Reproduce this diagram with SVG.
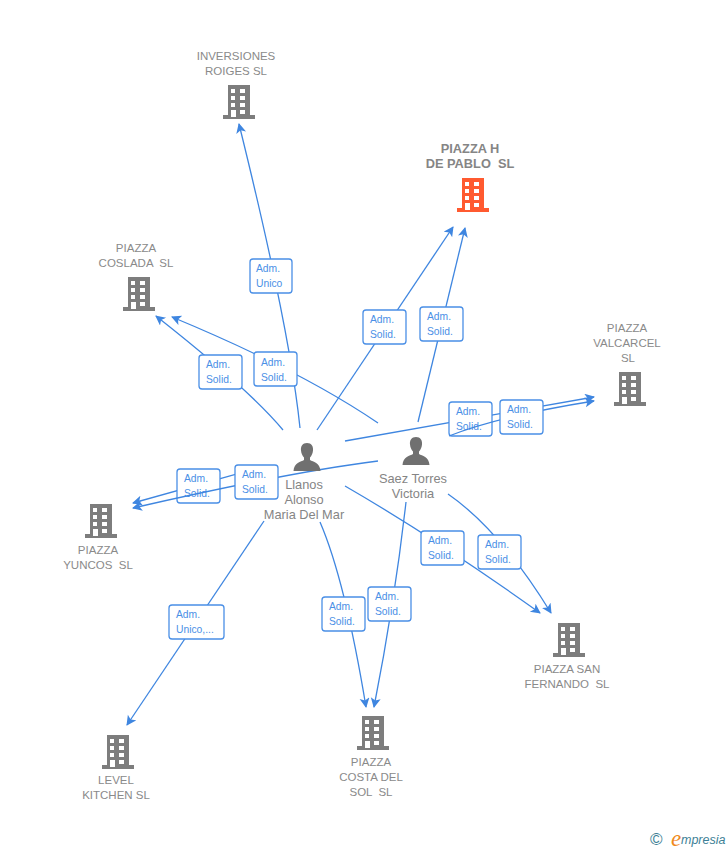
<svg xmlns="http://www.w3.org/2000/svg" width="728" height="850" viewBox="0 0 728 850">
<style>
text{font-family:"Liberation Sans",Arial,sans-serif;white-space:pre}
.n{font-size:11.5px;fill:#8a8a8a;text-anchor:middle}
.m{font-size:12.800px;font-weight:bold;fill:#858585}
.p{font-size:12.800px;fill:#858585;text-anchor:middle}
.l{font-size:10.300px;fill:#4a8fe6}
.b{fill:#fff;stroke:#4a8fe6;stroke-width:1.3}
.c{fill:none;stroke:#3f86e0;stroke-width:1.3;marker-end:url(#a)}
</style>
<defs>
<marker id="a" markerUnits="userSpaceOnUse" markerWidth="12" markerHeight="12" refX="9" refY="5" orient="auto"><path d="M0 0L10 5L0 10L2.500 5Z" fill="#3f86e0"/></marker>
<symbol id="bld" viewBox="0 0 32 34" overflow="visible"><path fill-rule="evenodd" d="M5 0H27V30H32V34H0V30H5ZM8 4V8H12V4ZM8 11V15H12V11ZM8 18V22H12V18ZM8 25V32H13V25ZM17 4V8H22V4ZM17 11V15H22V11ZM17 18V22H22V18ZM17 25V29H22V25Z"/></symbol>
<symbol id="per" viewBox="0 0 28 28" overflow="visible"><path d="M14 0C18.500 0 20.500 3.500 20 7.500C19.700 10.500 18.500 13 17 14.500V17C20 19 27 19.500 27.500 28H0.500C1 19.500 8 19 11 17V14.500C9.500 13 8.300 10.500 8 7.500C7.500 3.500 9.500 0 14 0Z" fill="#707070"/></symbol>
</defs>

<g id="connectors-under">
<path class="c" d="M345 441L594 397"/>
<path class="c" d="M262 467L133 503"/>
</g>

<g id="box-valcarcel-1"><rect class="b" x="449" y="402" width="43" height="34" rx="3"/><text class="l" x="456" y="415">Adm.</text><text class="l" x="456" y="430">Solid.</text></g>
<g id="box-yuncos-1"><rect class="b" x="177" y="469" width="43" height="34" rx="3"/><text class="l" x="184" y="482">Adm.</text><text class="l" x="184" y="497">Solid.</text></g>

<g id="connectors">
<path class="c" d="M300 428Q290 330 239 124"/>
<path class="c" d="M283 430Q250 390 156 316"/>
<path class="c" d="M378 423Q300 370 172 317"/>
<path class="c" d="M317 430L453 227"/>
<path class="c" d="M418 422L465 228"/>
<path class="c" d="M449 436Q500 416 594 401"/>
<path class="c" d="M378 461Q290 472 133 508"/>
<path class="c" d="M264 521L127 725"/>
<path class="c" d="M320 522Q345 580 366 707"/>
<path class="c" d="M406 502Q395 600 374 707"/>
<path class="c" d="M345 486Q435 538 540 613"/>
<path class="c" d="M448 494Q500 530 551 613"/>
</g>

<g id="box-inversiones"><rect class="b" x="250" y="259" width="42" height="34" rx="3"/><text class="l" x="256" y="272">Adm.</text><text class="l" x="256" y="287">Unico</text></g>
<g id="box-coslada-1"><rect class="b" x="199" y="355" width="43" height="34" rx="3"/><text class="l" x="206" y="368">Adm.</text><text class="l" x="206" y="383">Solid.</text></g>
<g id="box-coslada-2"><rect class="b" x="254" y="352" width="43" height="34" rx="3"/><text class="l" x="261" y="366">Adm.</text><text class="l" x="261" y="381">Solid.</text></g>
<g id="box-h-1"><rect class="b" x="363" y="310" width="43" height="34" rx="3"/><text class="l" x="370" y="323">Adm.</text><text class="l" x="370" y="338">Solid.</text></g>
<g id="box-h-2"><rect class="b" x="420" y="307" width="43" height="34" rx="3"/><text class="l" x="427" y="320">Adm.</text><text class="l" x="427" y="335">Solid.</text></g>
<g id="box-valcarcel-2"><rect class="b" x="500" y="400" width="43" height="34" rx="3"/><text class="l" x="507" y="413">Adm.</text><text class="l" x="507" y="428">Solid.</text></g>
<g id="box-yuncos-2"><rect class="b" x="235" y="465" width="43" height="34" rx="3"/><text class="l" x="242" y="478">Adm.</text><text class="l" x="242" y="493">Solid.</text></g>
<g id="box-level"><rect class="b" x="169" y="605" width="55" height="34" rx="3"/><text class="l" x="176" y="618">Adm.</text><text class="l" x="176" y="633">Unico,...</text></g>
<g id="box-costa-1"><rect class="b" x="322" y="597" width="43" height="34" rx="3"/><text class="l" x="329" y="610">Adm.</text><text class="l" x="329" y="625">Solid.</text></g>
<g id="box-costa-2"><rect class="b" x="368" y="587" width="43" height="34" rx="3"/><text class="l" x="375" y="600">Adm.</text><text class="l" x="375" y="615">Solid.</text></g>
<g id="box-fernando-1"><rect class="b" x="421" y="531" width="43" height="34" rx="3"/><text class="l" x="428" y="544">Adm.</text><text class="l" x="428" y="559">Solid.</text></g>
<g id="box-fernando-2"><rect class="b" x="478" y="535" width="43" height="34" rx="3"/><text class="l" x="485" y="548">Adm.</text><text class="l" x="485" y="563">Solid.</text></g>

<g id="inversiones"><text class="n" x="236" y="60">INVERSIONES</text><text class="n" x="236" y="75">ROIGES SL</text><use href="#bld" x="223" y="85" width="32" height="34" fill="#7d7d7d"/></g>
<g id="piazza-h"><text class="n m" x="470" y="153">PIAZZA H</text><text class="n m" x="470" y="168">DE PABLO  SL</text><use href="#bld" x="457" y="178" width="32" height="34" fill="#ff5a30"/></g>
<g id="coslada"><text class="n" x="136" y="252">PIAZZA</text><text class="n" x="136" y="267">COSLADA  SL</text><use href="#bld" x="123" y="277" width="32" height="34" fill="#7d7d7d"/></g>
<g id="valcarcel"><text class="n" x="627" y="332">PIAZZA</text><text class="n" x="627" y="347">VALCARCEL</text><text class="n" x="628" y="362">SL</text><use href="#bld" x="614" y="372" width="32" height="34" fill="#7d7d7d"/></g>
<g id="yuncos"><use href="#bld" x="85" y="504" width="32" height="34" fill="#7d7d7d"/><text class="n" x="98" y="554">PIAZZA</text><text class="n" x="98" y="569">YUNCOS  SL</text></g>
<g id="level"><use href="#bld" x="102" y="735" width="32" height="34" fill="#7d7d7d"/><text class="n" x="116" y="784">LEVEL</text><text class="n" x="116" y="799">KITCHEN SL</text></g>
<g id="costa"><use href="#bld" x="357" y="716" width="32" height="34" fill="#7d7d7d"/><text class="n" x="371" y="766">PIAZZA</text><text class="n" x="371" y="781">COSTA DEL</text><text class="n" x="371" y="796">SOL  SL</text></g>
<g id="fernando"><use href="#bld" x="553" y="623" width="32" height="34" fill="#7d7d7d"/><text class="n" x="567" y="673">PIAZZA SAN</text><text class="n" x="567" y="688">FERNANDO  SL</text></g>
<g id="llanos"><use href="#per" x="293" y="443" width="28" height="28"/><text class="p" x="304" y="489">Llanos</text><text class="p" x="304" y="504">Alonso</text><text class="p" x="304" y="519">Maria Del Mar</text></g>
<g id="saez"><use href="#per" x="402" y="437" width="28" height="28"/><text class="p" x="413" y="483">Saez Torres</text><text class="p" x="413" y="498">Victoria</text></g>
<g id="logo"><text x="650" y="845" font-size="17" fill="#3d7f96">©</text><text x="671" y="846" font-size="23" font-style="italic" fill="#f08a1d" style="font-family:'Liberation Serif',serif">e</text><text x="681" y="844" font-size="12.500" font-style="italic" fill="#3d7f96">mpresia</text></g>
</svg>
